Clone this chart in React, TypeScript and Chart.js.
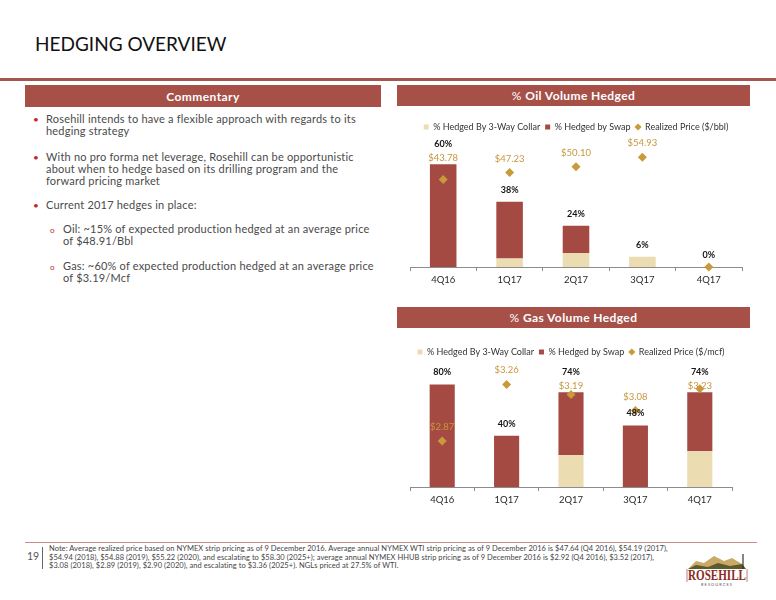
import React, { useEffect, useRef } from 'react';
import { Chart, registerables } from 'chart.js';

Chart.register(...registerables);

// ---------- data ----------
const categories = ['4Q16', '1Q17', '2Q17', '3Q17', '4Q17'];

const oilCollar = [0, 5, 8, 6, 0];
const oilSwap = [60, 33, 16, 0, 0];
const oilPrice = [43.78, 47.23, 50.1, 54.93, 0];

const gasCollar = [0, 0, 25, 0, 28];
const gasSwap = [80, 40, 49, 48, 46];
const gasPrice = [2.87, 3.26, 3.19, 3.08, 3.23];

const collarLabel = '% Hedged By 3-Way Collar';
const swapLabel = '% Hedged by Swap';
const oilPriceLabel = 'Realized Price ($/bbl)';
const gasPriceLabel = 'Realized Price ($/mcf)';

// ---------- style ----------
const RED = '#a54a42';
const HEADER = '#a65048';
const BEIGE = '#ebdcb2';
const GOLD = '#c99a3a';
const GOLD_TEXT = '#c8963c';
const FONT = 'Lato, "Open Sans", sans-serif';

const labelPlugin = {
  id: 'hedgeLabels',
  afterDatasetsDraw(chart: any) {
    const { ctx } = chart;
    const x = chart.scales.x;
    const y = chart.scales.y;
    const y2 = chart.scales.y2;
    const ds = chart.data.datasets;
    const n = chart.data.labels.length;
    ctx.save();
    ctx.textAlign = 'center';
    ctx.textBaseline = 'middle';
    for (let i = 0; i < n; i++) {
      const cx = x.getPixelForValue(i);
      const total = (ds[0].data[i] as number) + (ds[1].data[i] as number);
      const price = ds[2].data[i] as number;
      const barTop = y.getPixelForValue(total);
      let pY = barTop - 12;
      let qY = y2.getPixelForValue(price) - 14;
      if (price > 0 && Math.abs(pY - qY) < 14) {
        // labels would collide: price label just above the bar, % label above it
        qY = barTop - 6;
        pY = qY - 14;
      }
      ctx.font = `bold 9px ${FONT}`;
      ctx.fillStyle = '#141414';
      ctx.fillText(`${Math.round(total)}%`, cx, pY);
      if (price > 0) {
        ctx.font = `9.5px ${FONT}`;
        ctx.fillStyle = GOLD_TEXT;
        ctx.fillText(`$${price.toFixed(2)}`, cx, qY);
      }
    }
    ctx.restore();
  },
};

type ChartProps = {
  collar: number[];
  swap: number[];
  price: number[];
  priceLabel: string;
  pctMax: number;
  priceMin: number;
  priceMax: number;
  padRight: number;
  barPct: number;
  left: number;
  top: number;
  width: number;
  height: number;
};

function HedgeChart(p: ChartProps) {
  const ref = useRef<HTMLCanvasElement>(null);
  useEffect(() => {
    const chart = new Chart(ref.current as HTMLCanvasElement, {
      type: 'bar',
      data: {
        labels: categories,
        datasets: [
          {
            type: 'bar',
            label: collarLabel,
            data: p.collar,
            backgroundColor: BEIGE,
            borderWidth: 0,
            yAxisID: 'y',
            stack: 's',
            order: 1,
            pointStyle: 'rect',
            barPercentage: p.barPct,
            categoryPercentage: 1,
          } as any,
          {
            type: 'bar',
            label: swapLabel,
            data: p.swap,
            backgroundColor: RED,
            borderWidth: 0,
            yAxisID: 'y',
            stack: 's',
            order: 1,
            pointStyle: 'rect',
            barPercentage: p.barPct,
            categoryPercentage: 1,
          } as any,
          {
            type: 'line',
            label: p.priceLabel,
            data: p.price,
            yAxisID: 'y2',
            showLine: false,
            backgroundColor: GOLD,
            borderColor: GOLD,
            borderWidth: 0,
            pointStyle: 'rectRot',
            pointRadius: 4.5,
            pointBackgroundColor: GOLD,
            pointBorderWidth: 0,
            order: 0,
            clip: false,
          } as any,
        ],
      },
      options: {
        responsive: false,
        animation: false,
        devicePixelRatio: 1,
        layout: { padding: { left: 13, right: p.padRight, top: 5.5, bottom: 0 } },
        plugins: {
          tooltip: { enabled: false },
          legend: {
            display: true,
            position: 'top',
            labels: {
              usePointStyle: true,
              boxWidth: 5,
              boxHeight: 5,
              padding: 5,
              color: '#333',
              font: { family: FONT, size: 9 },
              sort: (a: any, b: any) => a.datasetIndex - b.datasetIndex,
            },
          },
        },
        scales: {
          x: {
            stacked: true,
            grid: {
              display: true,
              drawOnChartArea: false,
              drawTicks: true,
              tickLength: 4,
              color: '#8c8c8c',
              offset: true,
            },
            border: { display: true, color: '#8c8c8c' },
            ticks: { color: '#2a2a2a', font: { family: FONT, size: 9.5 }, padding: 3 },
            afterFit: (s: any) => {
              s.height = 20;
            },
          },
          y: { display: false, stacked: true, min: 0, max: p.pctMax },
          y2: { display: false, min: p.priceMin, max: p.priceMax },
        },
      } as any,
      plugins: [labelPlugin],
    });
    return () => chart.destroy();
  }, []);
  return (
    <canvas
      ref={ref}
      width={p.width}
      height={p.height}
      style={{ position: 'absolute', left: p.left, top: p.top, width: p.width, height: p.height }}
    />
  );
}

const headerStyle = (left: number, top: number, width: number, height: number): React.CSSProperties => ({
  position: 'absolute',
  left,
  top,
  width,
  height,
  background: HEADER,
  color: '#fff',
  display: 'flex',
  alignItems: 'center',
  justifyContent: 'center',
  fontFamily: FONT,
  fontWeight: 700,
  fontSize: 12,
  letterSpacing: 0.4,
});

const bodyText: React.CSSProperties = {
  position: 'absolute',
  fontFamily: FONT,
  fontSize: 11,
  lineHeight: '12.3px',
  letterSpacing: 0.2,
  color: '#4a4a4a',
  whiteSpace: 'nowrap',
};

function Bullet({ top, lines }: { top: number; lines: string[] }) {
  return (
    <>
      <div style={{ position: 'absolute', left: 33, top: top, color: '#c0262b', fontSize: 10, lineHeight: '12.3px', fontFamily: FONT }}>•</div>
      <div style={{ ...bodyText, left: 46, top }}>
        {lines.map((l, i) => (
          <div key={i}>{l}</div>
        ))}
      </div>
    </>
  );
}

function SubBullet({ top, lines }: { top: number; lines: string[] }) {
  return (
    <>
      <div style={{ position: 'absolute', left: 50, top: top + 1, color: '#c0262b', fontSize: 8, lineHeight: '12.3px', fontFamily: FONT }}>o</div>
      <div style={{ ...bodyText, left: 63, top }}>
        {lines.map((l, i) => (
          <div key={i}>{l}</div>
        ))}
      </div>
    </>
  );
}

const noteLines = [
  'Note: Average realized price based on NYMEX strip pricing as of 9 December 2016. Average annual NYMEX WTI strip pricing as of 9 December 2016 is $47.64 (Q4 2016), $54.19 (2017),',
  '$54.94 (2018), $54.88 (2019), $55.22 (2020), and escalating to $58.30 (2025+); average annual NYMEX HHUB strip pricing as of 9 December 2016 is $2.92 (Q4 2016), $3.52 (2017),',
  '$3.08 (2018), $2.89 (2019), $2.90 (2020), and escalating to $3.36 (2025+). NGLs priced at 27.5% of WTI.',
];

export default function App() {
  return (
    <div
      style={{
        position: 'absolute',
        left: 0,
        top: 0,
        width: 776,
        height: 600,
        background: '#fff',
        overflow: 'hidden',
        fontFamily: FONT,
      }}
    >
      {/* Title */}
      <div style={{ position: 'absolute', left: 35, top: 33, fontSize: 19, lineHeight: 1.2, color: '#111', fontFamily: FONT }}>
        HEDGING OVERVIEW
      </div>
      <div style={{ position: 'absolute', left: 0, top: 78, width: 776, height: 3, background: '#a4564d' }} />

      {/* Headers */}
      <div style={headerStyle(25, 85, 356, 22)}>Commentary</div>
      <div style={headerStyle(397, 85, 353, 21)}>
        <span style={{ fontWeight: 400 }}>%</span>&nbsp;Oil Volume Hedged
      </div>
      <div style={headerStyle(397, 307, 353, 21)}>
        <span style={{ fontWeight: 400 }}>%</span>&nbsp;Gas Volume Hedged
      </div>

      {/* Commentary */}
      <Bullet top={113} lines={['Rosehill intends to have a flexible approach with regards to its', 'hedging strategy']} />
      <Bullet
        top={150.5}
        lines={[
          'With no pro forma net leverage, Rosehill can be opportunistic',
          'about when to hedge based on its drilling program and the',
          'forward pricing market',
        ]}
      />
      <Bullet top={199} lines={['Current 2017 hedges in place:']} />
      <SubBullet top={223} lines={['Oil: ~15% of expected production hedged at an average price', 'of $48.91/Bbl']} />
      <SubBullet top={259.5} lines={['Gas: ~60% of expected production hedged at an average price', 'of $3.19/Mcf']} />

      {/* Charts */}
      <HedgeChart
        collar={oilCollar}
        swap={oilSwap}
        price={oilPrice}
        priceLabel={oilPriceLabel}
        pctMax={73.2}
        priceMin={0}
        priceMax={62.75}
        padRight={18}
        barPct={0.4}
        left={397}
        top={112}
        width={363}
        height={175}
      />
      <HedgeChart
        collar={gasCollar}
        swap={gasSwap}
        price={gasPrice}
        priceLabel={gasPriceLabel}
        pctMax={94.1}
        priceMin={2.554}
        priceMax={3.383}
        padRight={28}
        barPct={0.39}
        left={397}
        top={337}
        width={363}
        height={170}
      />

      {/* Footer */}
      <div style={{ position: 'absolute', left: 25, top: 542, width: 732, height: 1, background: '#c4918a' }} />
      <div style={{ position: 'absolute', left: 27, top: 550, fontSize: 10.5, color: '#555', fontFamily: FONT }}>19</div>
      <div style={{ position: 'absolute', left: 42, top: 547, width: 1, height: 22, background: '#666' }} />
      <div
        style={{
          position: 'absolute',
          left: 49,
          top: 545,
          fontSize: 7.5,
          letterSpacing: 0.05,
          lineHeight: '8.7px',
          color: '#444',
          whiteSpace: 'nowrap',
          fontFamily: FONT,
        }}
      >
        {noteLines.map((l, i) => (
          <div key={i}>{l}</div>
        ))}
      </div>

      {/* Logo */}
      <svg style={{ position: 'absolute', left: 684, top: 552 }} width={66} height={36} viewBox="0 0 66 36">
        <polygon points="4,17 12,9 20,11 30,4 40,9 48,6 58,12 62,17" fill="#c9a966" />
        <polygon points="4,17 12,13 24,15 34,11 46,14 58,12 62,17" fill="#5d5a2c" />
        <line x1="59" y1="2" x2="59" y2="17" stroke="#333" strokeWidth="1.2" />
        <line x1="3" y1="17" x2="3" y2="30" stroke="#8c2b1e" strokeWidth="0.6" />
        <line x1="63" y1="17" x2="63" y2="30" stroke="#8c2b1e" strokeWidth="0.6" />
        <text x="4" y="28" fontFamily="'Liberation Serif', 'DejaVu Serif', serif" fontWeight="bold" fontSize="14" fill="#8c2b1e" textLength="58" lengthAdjust="spacingAndGlyphs">
          ROSEHILL
        </text>
        <text x="33" y="34" textAnchor="middle" fontFamily={FONT} fontSize="4" letterSpacing="1" fill="#555">
          RESOURCES
        </text>
      </svg>
    </div>
  );
}
